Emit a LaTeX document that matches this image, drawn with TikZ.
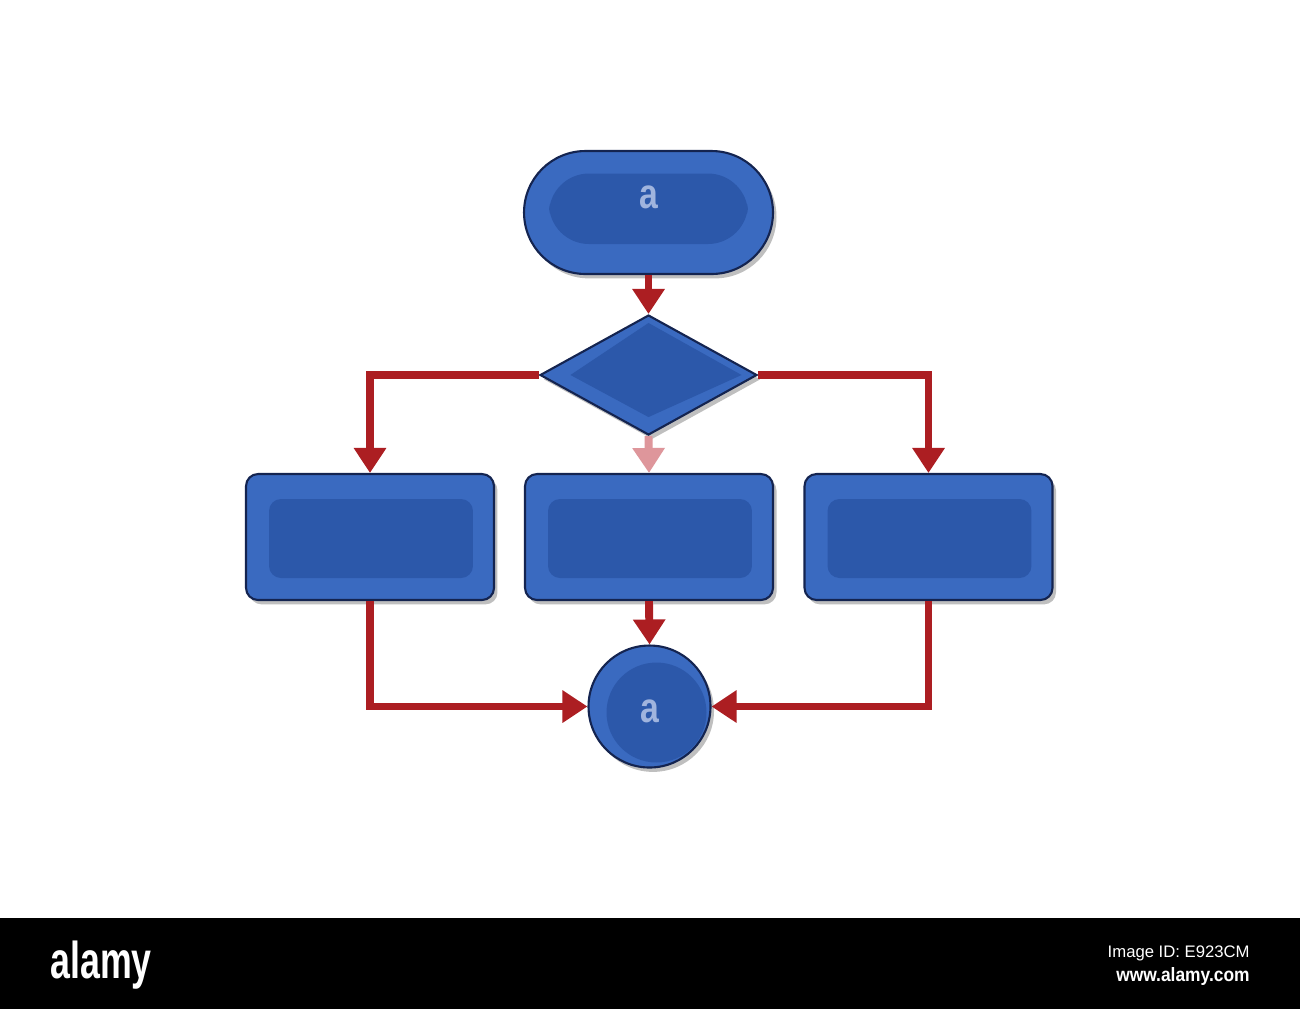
\documentclass[tikz,border=0pt]{standalone}
\usepackage{fontspec}
\setmainfont{Liberation Sans}
\usetikzlibrary{shapes.geometric,shapes.misc,arrows.meta,shadows}
\definecolor{rim}{RGB}{58,106,192}
\definecolor{core}{RGB}{44,88,170}
\definecolor{edgeblue}{RGB}{20,36,80}
\definecolor{connred}{RGB}{172,30,34}
\definecolor{fadedred}{RGB}{222,150,155}
\definecolor{lbl}{RGB}{160,180,222}
\begin{document}
\begin{tikzpicture}[x=0.02cm,y=-0.02cm,
  box/.style={draw=edgeblue, line width=1.2pt, fill=rim,
    drop shadow={shadow xshift=2pt, shadow yshift=-2.5pt, opacity=0.5}},
  lettera/.style={text=lbl, font=\fontsize{24}{24}\selectfont\bfseries},
  termbox/.style={box, rounded rectangle, minimum width=4.98cm, minimum height=2.46cm,
    inner sep=0pt, lettera, text height=0.44cm, text depth=0.6cm,
    path picture={\fill[core, rounded corners=0.8cm]
      ([shift={(0.5cm,-0.45cm)}]path picture bounding box.north west) rectangle
      ([shift={(-0.5cm,0.6cm)}]path picture bounding box.south east);}},
  procbox/.style={box, rectangle, rounded corners=0.24cm, minimum width=4.96cm, minimum height=2.52cm,
    path picture={\fill[core]
      ([shift={(0.46cm,-0.5cm)}]path picture bounding box.north west) rectangle
      ([shift={(-0.42cm,0.44cm)}]path picture bounding box.south east);}},
  decbox/.style={box, diamond, minimum width=4.34cm, minimum height=2.4cm, inner sep=0pt,
    path picture={\fill[core]
      ([yshift=-0.15cm]path picture bounding box.north) --
      ([xshift=-0.3cm]path picture bounding box.east) --
      ([yshift=0.35cm]path picture bounding box.south) --
      ([xshift=0.6cm]path picture bounding box.west) -- cycle;}},
  joinbox/.style={box, circle, minimum size=2.44cm, inner sep=0pt,
    lettera, text height=0.64cm, text depth=0cm,
    path picture={\fill[core] ([shift={(0.14cm,-0.12cm)}]path picture bounding box.center) circle (1.0cm);}},
  conn/.style={draw=connred, line width=4.5pt, -{Triangle[width=0.62cm,length=0.5cm]}},
  fadedconn/.style={conn, draw=fadedred},
  barlogo/.style={text=white, inner sep=0pt, font=\fontsize{29.5}{30}\selectfont\bfseries},
  barsmall/.style={text=white, inner sep=0pt, font=\fontsize{9.5}{10}\selectfont},
  barurl/.style={text=white, inner sep=0pt, font=\fontsize{11}{12}\selectfont\bfseries}
]
\useasboundingbox (0,0) rectangle (1300,1009);
\fill[white] (0,0) rectangle (1300,1009);
\fill[black] (0,918) rectangle (1300,1009);

% nodes
\node[termbox] (start) at (648.5,212.5) {\scalebox{0.8}[1]{a}};
\node[decbox] (dec) at (648.5,375) {};
\node[procbox] (left) at (370,537) {};
\node[procbox] (mid) at (649,537) {};
\node[procbox] (right) at (928.5,537) {};
\node[joinbox] (join) at (649.5,706.5) {\scalebox{0.8}[1]{a}};

% connectors
\draw[conn] (start.south) -- (dec.north);
\draw[conn] (dec.west) -| (left.north);
\draw[conn] (dec.east) -| (right.north);
\draw[fadedconn] (dec.south) -- (mid.north);
\draw[conn] (left.south) |- (join.west);
\draw[conn] (mid.south) -- (join.north);
\draw[conn] (right.south) |- (join.east);

% watermark bar
\node[barlogo, anchor=base west] (logo) at (50,978) {\scalebox{0.69}[1]{alamy}};
\node[barsmall, anchor=base east] (imgid) at (1250,957) {Image ID: E923CM};
\node[barurl, anchor=base east] (url) at (1250,981) {\scalebox{0.9}[1]{www.alamy.com}};
\end{tikzpicture}
\end{document}
